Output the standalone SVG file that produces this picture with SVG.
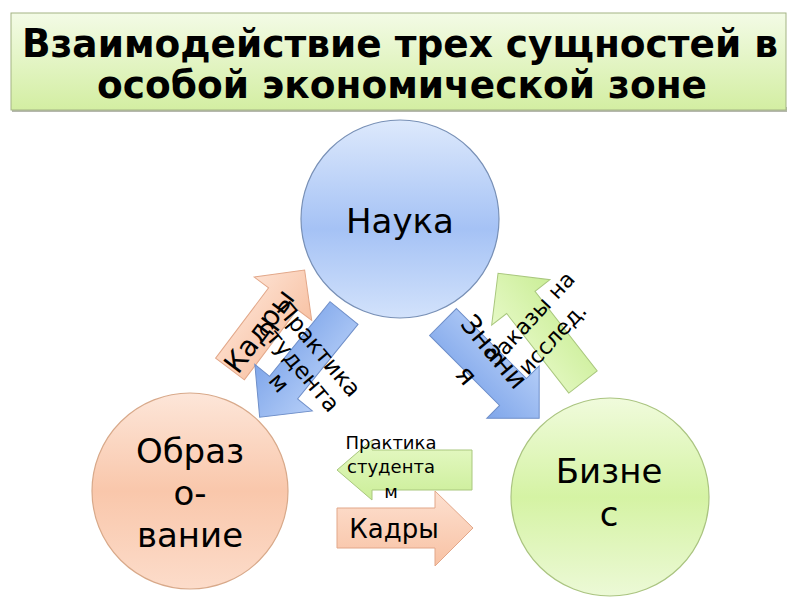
<svg xmlns="http://www.w3.org/2000/svg" width="800" height="600" viewBox="0 0 800 600">
<defs>
<linearGradient id="gTitle" x1="0" y1="0" x2="0" y2="1"><stop offset="0" stop-color="#f3fbe6"/><stop offset="1" stop-color="#d3eea2"/></linearGradient>
<linearGradient id="gBlueC" x1="0" y1="0" x2="0" y2="1"><stop offset="0" stop-color="#dde9fc"/><stop offset="0.55" stop-color="#a5c2f5"/><stop offset="1" stop-color="#d2e2fb"/></linearGradient>
<linearGradient id="gPeachC" x1="0" y1="0" x2="0" y2="1"><stop offset="0" stop-color="#fde6d9"/><stop offset="0.5" stop-color="#f9c7ab"/><stop offset="1" stop-color="#fcdcca"/></linearGradient>
<linearGradient id="gGreenC" x1="0" y1="0" x2="0" y2="1"><stop offset="0" stop-color="#f0fbdc"/><stop offset="0.5" stop-color="#d5f3a4"/><stop offset="1" stop-color="#ecf9d6"/></linearGradient>
<linearGradient id="gPeachA" x1="0" y1="0" x2="0" y2="1"><stop offset="0" stop-color="#fde0d0"/><stop offset="1" stop-color="#f8c2a4"/></linearGradient>
<linearGradient id="gBlueA" x1="0" y1="0" x2="0" y2="1"><stop offset="0" stop-color="#b4cdf7"/><stop offset="1" stop-color="#7fa6ea"/></linearGradient>
<linearGradient id="gGreenA" x1="0" y1="0" x2="0" y2="1"><stop offset="0" stop-color="#e6f9c6"/><stop offset="1" stop-color="#cbee98"/></linearGradient>
</defs>
<style>
.t{font-family:"DejaVu Sans","Noto Sans",sans-serif;fill:#000;}
.title{font-family:"DejaVu Sans Condensed","DejaVu Sans",sans-serif;font-weight:bold;font-size:39px;fill:#000;}
.node{font-size:34px;text-anchor:middle;}
.lbl{text-anchor:middle;}
.pa{fill:url(#gPeachA);stroke:#e2a789;stroke-width:1;}
.ba{fill:url(#gBlueA);stroke:#6f8fc9;stroke-width:1;}
.ga{fill:url(#gGreenA);stroke:#a9c77e;stroke-width:1;}
</style>
<rect width="800" height="600" fill="#fff"/>
<g id="title">
<rect x="12" y="107" width="775" height="5" fill="#b5b8ad"/>
<rect x="11" y="13" width="775" height="97" fill="url(#gTitle)" stroke="#a3b384" stroke-width="1"/>
<text class="title" x="22" y="57" textLength="756" lengthAdjust="spacingAndGlyphs">Взаимодействие трех сущностей в</text>
<text class="title" x="97" y="98" textLength="610" lengthAdjust="spacingAndGlyphs">особой экономической зоне</text>
</g>
<g id="nauka">
<circle cx="400" cy="219" r="99" fill="url(#gBlueC)" stroke="#7890b6" stroke-width="1.2"/>
<text class="t node" x="400" y="233">Наука</text>
</g>
<g id="obrazovanie">
<circle cx="190" cy="491" r="98" fill="url(#gPeachC)" stroke="#d8a98a" stroke-width="1.2"/>
<text class="t node" x="190" y="463">Образ</text>
<text class="t node" x="190" y="505">о-</text>
<text class="t node" x="190" y="547">вание</text>
</g>
<g id="biznes">
<circle cx="610" cy="497" r="99" fill="url(#gGreenC)" stroke="#aac480" stroke-width="1.2"/>
<text class="t node" x="609" y="483">Бизне</text>
<text class="t node" x="609" y="526">с</text>
</g>
<g id="connectors">
<polygon class="pa" transform="translate(230,369) rotate(-53)" points="0,-18 88,-18 88,-36 124,0 88,36 88,18 0,18"/>
<polygon class="ba" transform="translate(344,313) rotate(129)" points="0,-18 96,-18 96,-37 134,0 96,37 96,18 0,18"/>
<polygon class="ba" transform="translate(443,322) rotate(45)" points="0,-19 99,-19 99,-37 136,0 99,37 99,19 0,19"/>
<polygon class="ga" transform="translate(583,382) rotate(-128)" points="0,-18 101,-18 101,-37 138,0 101,37 101,18 0,18"/>
<polygon class="ga" points="472,450 372,450 372,440 337,470 372,500 372,490 472,490"/>
<polygon class="pa" points="337,508 435,508 435,491 473,528 435,566 435,548 337,548"/>
<text class="t lbl" font-size="28" transform="translate(230,369) rotate(-53)" x="48" y="10">Кадры</text>
<text class="t lbl" font-size="23" transform="translate(319,349) rotate(50)"><tspan x="0" y="8">Практика</tspan><tspan x="0" y="34">студента</tspan><tspan x="0" y="60">м</tspan></text>
<text class="t lbl" font-size="27" transform="translate(494,352) rotate(50)"><tspan x="0" y="9">Знани</tspan><tspan x="0" y="45">я</tspan></text>
<text class="t lbl" font-size="22" transform="translate(530,318) rotate(-47)"><tspan x="0" y="8">Заказы на</tspan><tspan x="0" y="38">исслед.</tspan></text>
<text class="t lbl" font-size="18"><tspan x="391" y="449">Практика</tspan><tspan x="391" y="473">студента</tspan><tspan x="391" y="498">м</tspan></text>
<text class="t lbl" font-size="26" x="394" y="538">Кадры</text>
</g>
</svg>
